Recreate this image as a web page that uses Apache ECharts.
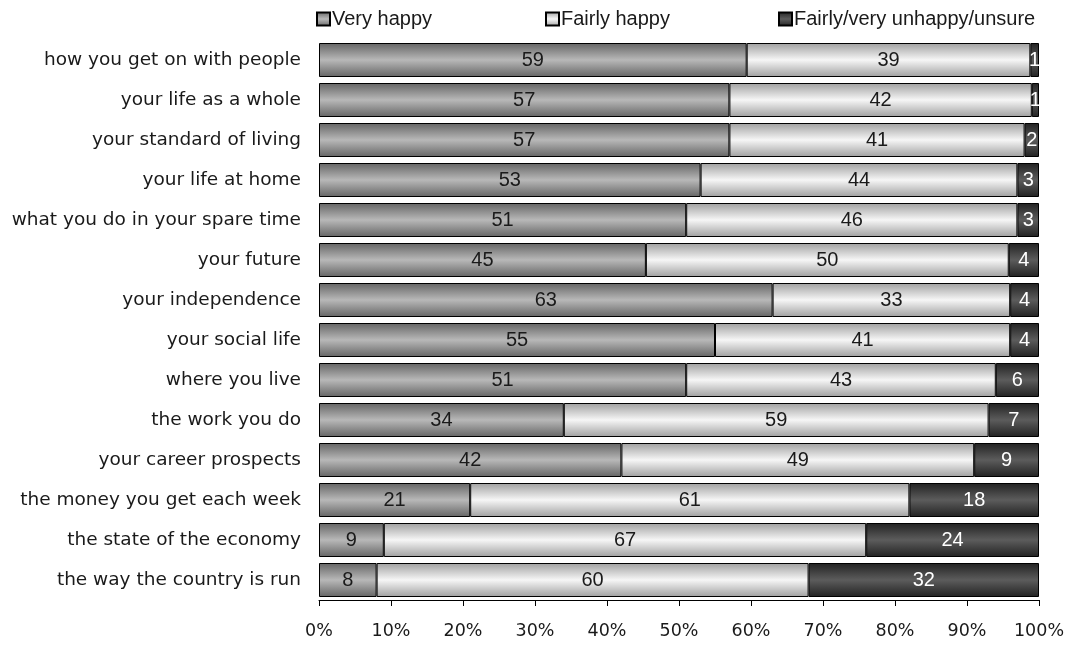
<!DOCTYPE html>
<html>
<head>
<meta charset="utf-8">
<script src="https://cdn.jsdelivr.net/npm/echarts@6/dist/echarts.min.js"></script>
<style>
  html, body { margin: 0; padding: 0; background: #fff; }
  #chart { width: 1072px; height: 647px; }
</style>
</head>
<body>
<div id="chart"></div>
<script>
// categories, top to bottom
var categories = [
  "how you get on with people",
  "your life as a whole",
  "your standard of living",
  "your life at home",
  "what you do in your spare time",
  "your future",
  "your independence",
  "your social life",
  "where you live",
  "the work you do",
  "your career prospects",
  "the money you get each week",
  "the state of the economy",
  "the way the country is run"
];
// percentages (labels show them rounded)
var veryHappy   = [59.4, 57, 57, 53, 51, 45.4, 63, 55, 51, 34, 42, 21, 9, 8];
var fairlyHappy = [39.4, 42, 41, 44, 46, 50.4, 33, 41, 43, 59, 49, 61, 67, 60];
var unhappy     = [1.2, 1, 2, 3, 3, 4.2, 4, 4, 6, 7, 9, 18, 24, 32];
var seriesNames = ["Very happy", "Fairly happy", "Fairly/very unhappy/unsure"];
var xTicks = [0, 100, 10]; // min, max, interval

// vertical gradient: darker at edges, light in the middle
function barGradient(edge, mid) {
  return {
    type: "linear", x: 0, y: 0, x2: 0, y2: 1,
    colorStops: [
      { offset: 0, color: edge },
      { offset: 0.5, color: mid },
      { offset: 1, color: edge }
    ]
  };
}

var fills = [
  barGradient("#656565", "#b8b8b8"),
  barGradient("#a0a0a0", "#f6f6f6"),
  barGradient("#222222", "#5c5c5c")
];
var labelColors = ["#1a1a1a", "#1a1a1a", "#ffffff"];
var values = [veryHappy, fairlyHappy, unhappy];
var narrow = "'Liberation Sans Narrow', 'Liberation Sans', sans-serif";

var myChart = echarts.init(document.getElementById("chart"));

var legendLeft = [311, 540, 773];
var legends = seriesNames.map(function (name, i) {
  return {
    data: [name],
    left: legendLeft[i],
    top: 4,
    itemWidth: 13,
    itemHeight: 13,
    itemGap: 3,
    icon: "rect",
    textStyle: { fontFamily: narrow, fontSize: 20, color: "#1a1a1a", padding: [0, 0, 0, -3] }
  };
});

var series = seriesNames.map(function (name, i) {
  return {
    name: name,
    type: "bar",
    stack: "total",
    barWidth: "85%",
    data: values[i],
    itemStyle: {
      color: fills[i],
      borderColor: "#000",
      borderWidth: 1
    },
    label: {
      show: true,
      position: "inside",
      fontFamily: narrow,
      fontSize: 20,
      color: labelColors[i],
      formatter: function (p) { return Math.round(p.value); }
    }
  };
});

var option = {
  animation: false,
  legend: legends,
  grid: { left: 319, right: 33, top: 40, bottom: 47 },
  xAxis: {
    type: "value",
    min: xTicks[0],
    max: xTicks[1],
    interval: xTicks[2],
    axisLine: { show: true, lineStyle: { color: "#000", width: 1 } },
    axisTick: { show: true, length: 6, lineStyle: { color: "#000" } },
    splitLine: { show: false },
    axisLabel: {
      formatter: "{value}%",
      margin: 22,
      fontFamily: "DejaVu Sans",
      fontSize: 17.5,
      color: "#1a1a1a"
    }
  },
  yAxis: {
    type: "category",
    inverse: true,
    data: categories,
    axisLine: { show: false },
    axisTick: { show: false },
    axisLabel: {
      margin: 18,
      fontFamily: "DejaVu Sans",
      fontSize: 18.5,
      color: "#1a1a1a"
    }
  },
  series: series
};

myChart.setOption(option);
</script>
</body>
</html>
